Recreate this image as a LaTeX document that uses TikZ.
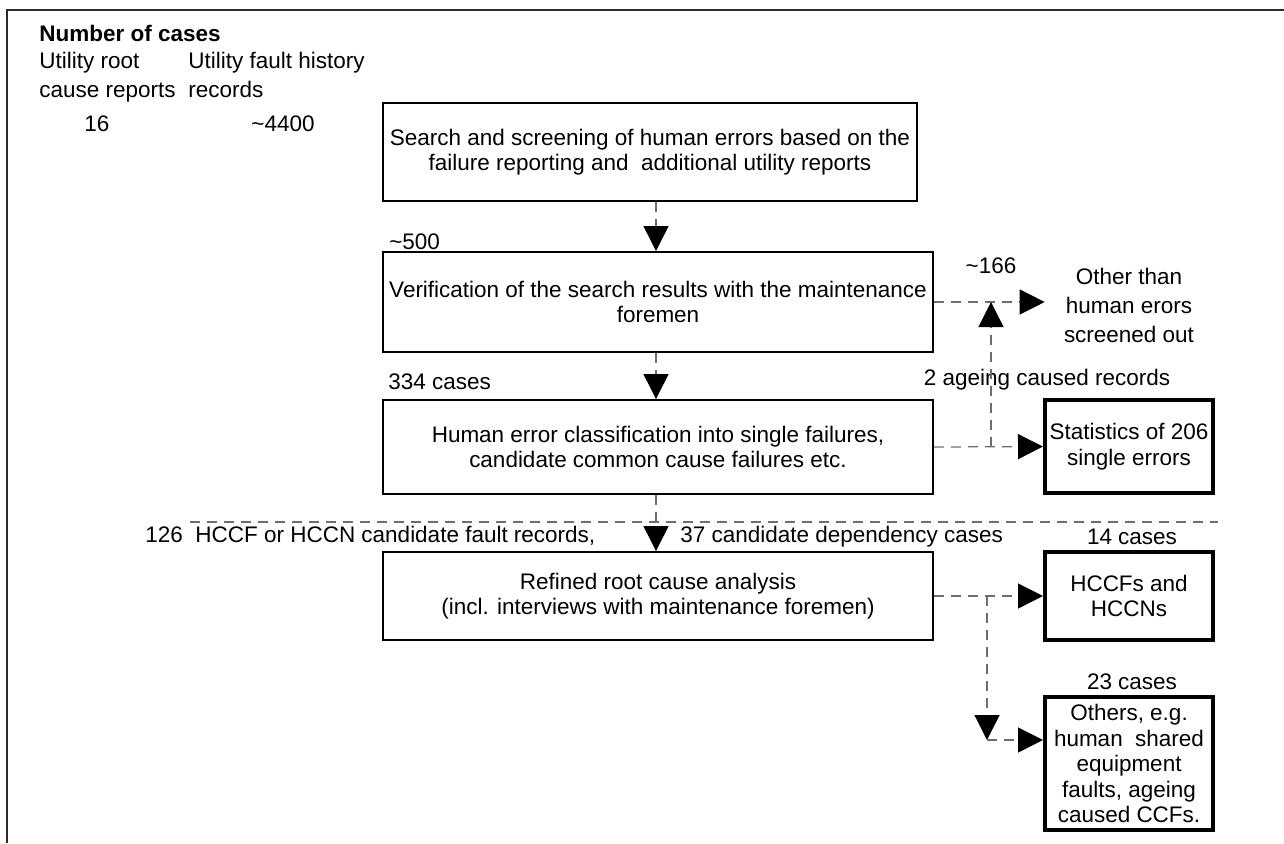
\documentclass[tikz,border=0pt]{standalone}
\usepackage{fontspec}
\setmainfont{Liberation Sans}
\usepackage{xcolor}
\usepackage{tikz}
\usetikzlibrary{arrows.meta, positioning, calc}
\definecolor{frameline}{HTML}{2B2B2B}
\definecolor{dashline}{HTML}{6E6E6E}
\newcommand{\diagfont}{\fontsize{12.8}{14.5}\selectfont}
\tikzset{
    stepbox/.style={draw=black, line width=1.1pt, align=center, inner sep=0pt, minimum width=11cm},
    resultbox/.style={draw=black, line width=2.3pt, align=center, inner sep=0pt, minimum width=3.36cm},
    label/.style={inner sep=0pt},
    flow/.style={draw=dashline, line width=0.7pt, dash pattern=on 0.2cm off 0.14cm,
        -{Triangle[length=0.5cm, width=0.5cm, color=black]}},
    sepline/.style={draw=dashline, line width=0.7pt, dash pattern=on 0.2cm off 0.14cm}
}

\begin{document}
\begin{tikzpicture}[x=0.02cm, y=-0.02cm, font=\diagfont]
    \useasboundingbox (0,0) rectangle (1284,843);

    % Frame
    \draw[frameline, line width=1.2pt] (7,843) -- (7,10) -- (1284,10);

    % Headings
    \node[label, font=\diagfont\bfseries, anchor=base west] (heading) at (39,41) {Number of cases};
    \node[label, anchor=base west] (rootA) at (39,68) {Utility root};
    \node[label, anchor=base west] (rootB) at (39,97) {cause reports};
    \node[label, anchor=base west] (histA) at (188,68) {Utility fault history};
    \node[label, anchor=base west] (histB) at (188,97) {records};
    \node[label, anchor=base] (rootnum) at (97,131) {16};
    \node[label, anchor=base] (histnum) at (283,131) {\textasciitilde4400};

    % Main steps
    \node[stepbox, minimum width=10.7cm, minimum height=1.96cm] (search) at (650,152) {
        Search and screening of human errors based on the\\
        failure reporting and\ \ additional utility reports
    };
    \node[stepbox, minimum height=2cm] (verify) at (658,302) {
        Verification of the search results with the maintenance\\
        foremen
    };
    \node[stepbox, minimum height=1.88cm] (classify) at (658,447) {
        Human error classification into single failures,\\
        candidate common cause failures etc.
    };
    \node[stepbox, minimum height=1.76cm] (refine) at (658,596) {
        Refined root cause analysis\\
        (incl. interviews with maintenance foremen)
    };

    % Results
    \node[label, align=center, minimum width=3.36cm, font=\fontsize{12.8}{16.5}\selectfont] (screened) at (1129,305) {
        Other than\\
        human erors\\
        screened out
    };
    \node[resultbox, minimum height=1.86cm] (stats) at (1129,446.5) {
        Statistics of 206\\
        single errors
    };
    \node[resultbox, minimum height=1.76cm] (hccf) at (1129,596) {
        HCCFs and\\
        HCCNs
    };
    \node[resultbox, minimum height=2.66cm] (others) at (1129,763.5) {
        Others, e.g.\\
        human\ \ shared\\
        equipment\\
        faults, ageing\\
        caused CCFs.
    };

    % Counts
    \node[label, anchor=base west] (n500) at (389,249) {\textasciitilde500};
    \node[label, anchor=base west] (n334) at (388,389) {334 cases};
    \node[label, anchor=base] (n166) at (991,273) {\textasciitilde166};
    \node[label, anchor=base] (nageing) at (1047,385) {2 ageing caused records};
    \node[label, anchor=base west] (n126) at (145,542) {126\ \ HCCF or HCCN candidate fault records,};
    \node[label, anchor=base west] (n37) at (680,542) {37 candidate dependency cases};
    \node[label, anchor=base] (n14) at (1132,544) {14 cases};
    \node[label, anchor=base] (n23) at (1132,689) {23 cases};

    % Separator
    \draw[sepline] (190,522) -- (1218,522);

    % Connectors
    \coordinate (spine) at (656,0);
    \coordinate (ageing) at (991,0);
    \coordinate (split) at (987,740);
    \draw[flow] (spine |- search.south) -- (spine |- verify.north);
    \draw[flow] (spine |- verify.south) -- (spine |- classify.north);
    \draw[flow] (spine |- classify.south) -- (spine |- refine.north);
    \draw[flow] (verify.east) -- (verify.east -| screened.west);
    \draw[flow] (classify.east) -- (stats.west);
    \draw[flow] (ageing |- classify.east) -- (ageing |- verify.east);
    \draw[flow] (refine.east) -- (hccf.west);
    \draw[flow] (split |- refine.east) -- (split);
    \draw[flow] (split) -- (split -| others.west);
\end{tikzpicture}
\end{document}
